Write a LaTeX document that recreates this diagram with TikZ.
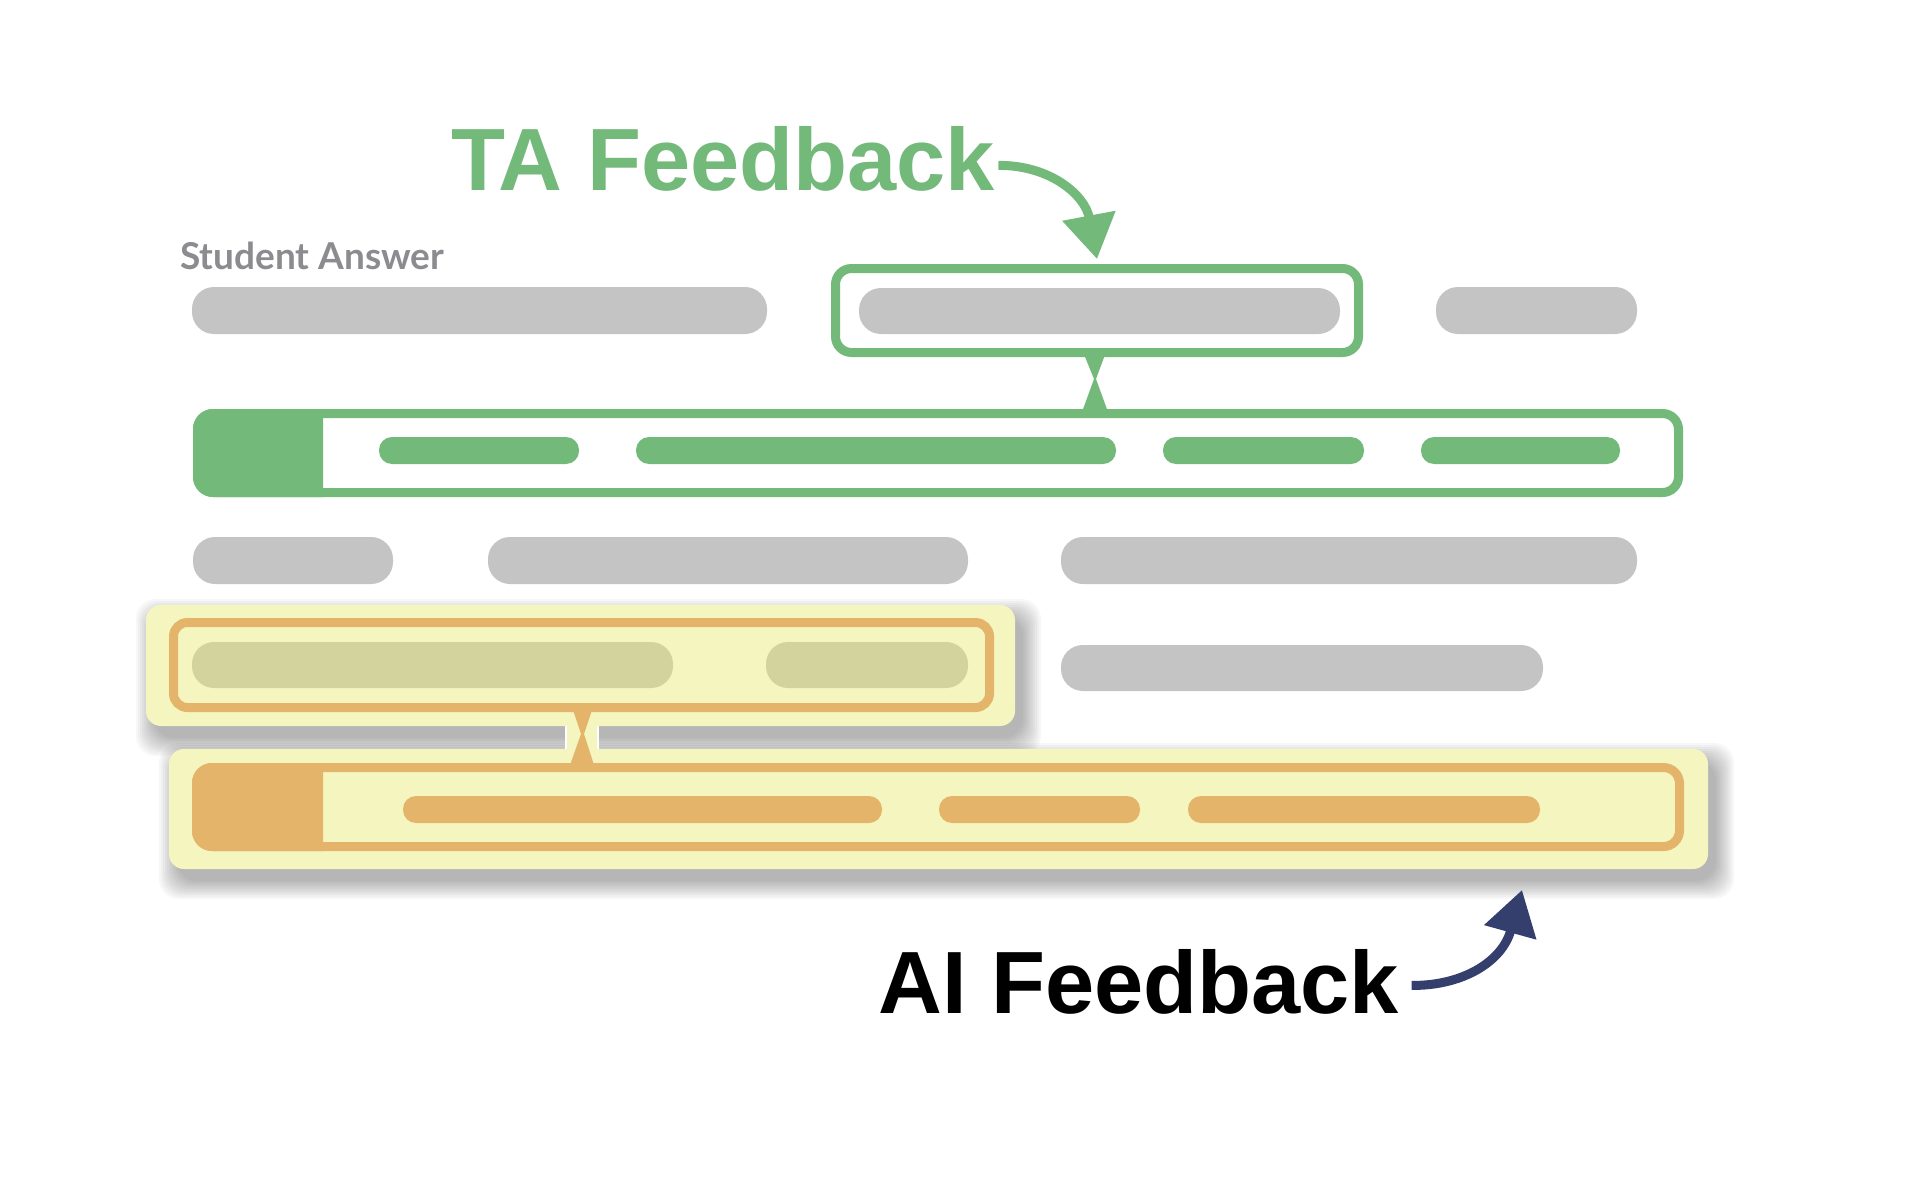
\documentclass[tikz,border=0pt]{standalone}
\usepackage{fontspec}
\setmainfont{Liberation Sans}
\newfontfamily\latofont{Lato}
\usetikzlibrary{arrows.meta}
\definecolor{tagreen}{HTML}{72B97A}
\definecolor{barg}{HTML}{C4C4C4}
\definecolor{aiyellow}{HTML}{F5F5C0}
\definecolor{aiorange}{HTML}{E3B46A}
\definecolor{aiolive}{HTML}{D3D39E}
\definecolor{labgray}{HTML}{8C8C90}
\definecolor{ainavy}{HTML}{353F6E}
\newcommand\mysoftshadow[4]{%
  \foreach \i in {0,...,9}{%
    \fill[black, opacity=0.03, rounded corners=10pt]
      ({#1+8-\i*2},{#2+12-\i*2}) rectangle ({#3+8+\i*2},{#4+12+\i*2});
  }}
\begin{document}
\begin{tikzpicture}[x=0.5pt,y=-0.5pt,
  graybar/.style={fill=barg, rounded corners=11pt},
  greenpill/.style={fill=tagreen, rounded corners=6.5pt},
  orangepill/.style={fill=aiorange, rounded corners=6.5pt},
  olivepill/.style={fill=aiolive, rounded corners=11pt},
  bigarrow/.style={line width=4.5pt, -{Triangle[length=22pt,width=26pt]}},
  label/.style={anchor=base west, inner sep=0pt, font=\fontsize{44.2}{45}\selectfont\bfseries}]
\useasboundingbox (0,0) rectangle (1928,1188);
\fill[white] (0,0) rectangle (1928,1188);

% ---------- TA part ----------
\node[label, text=tagreen] (ta) at (451,191) {TA Feedback};
\node[anchor=base west, inner sep=0pt, text=labgray, font=\latofont\bfseries\fontsize{18.5}{20}\selectfont] (sa) at (180,269) {Student Answer};

% row 1
\fill[graybar] (192,287) rectangle (767,334);
\fill[graybar] (1436,287) rectangle (1637,334);
\node[draw=tagreen, line width=4.5pt, rounded corners=8pt, minimum width=261.5pt, minimum height=42pt, inner sep=0pt] (tabox) at (1097,310.5) {};
\fill[graybar] (859,288) rectangle (1340,334);

% green hourglass
\fill[tagreen] (1083,352) -- (1106,352) -- (1096,379) -- (1108,412) -- (1082,412) -- (1094,379) -- cycle;

% green feedback bar
\begin{scope}
  \clip (180,400) rectangle (323,510);
  \fill[tagreen, rounded corners=10pt] (193,409) rectangle (400,497);
\end{scope}
\draw[tagreen, line width=4.5pt, rounded corners=8pt] (197.5,413.5) rectangle (1678.5,492.5);
\fill[greenpill] (379,437) rectangle (579,464);
\fill[greenpill] (636,437) rectangle (1116,464);
\fill[greenpill] (1163,437) rectangle (1364,464);
\fill[greenpill] (1421,437) rectangle (1620,464);

\draw[bigarrow, tagreen] ([shift={(3,6)}]ta.east) .. controls (1050,165) and (1085,195) .. ([yshift=2.5pt]tabox.north);

% row 3
\fill[graybar] (193,537) rectangle (393,584);
\fill[graybar] (488,537) rectangle (968,584);
\fill[graybar] (1061,537) rectangle (1637,584);

% row 4 gray
\fill[graybar] (1061,645) rectangle (1543,691);

% ---------- AI part ----------
\mysoftshadow{146}{605}{1015}{726}
\mysoftshadow{169}{749}{1708}{869}
\fill[aiyellow, rounded corners=7.5pt] (146,605) rectangle (1015,726);
\fill[aiyellow, rounded corners=7.5pt] (169,749) rectangle (1708,869);
% connecting strip
\fill[aiyellow] (566,720) rectangle (598,755);
\draw[white, line width=0.6pt] (566,726) -- (566,749) (598,726) -- (598,749);

% top box content
\draw[aiorange, line width=4.5pt, rounded corners=7pt] (173.5,622.5) rectangle (989.5,707.5);
\fill[olivepill] (192,642) rectangle (673,688);
\fill[olivepill] (766,642) rectangle (968,688);

% orange hourglass
\fill[aiorange] (572,707) -- (593,707) -- (584,734) -- (595,768) -- (569,768) -- (581,734) -- cycle;

% bottom box content
\begin{scope}
  \clip (180,755) rectangle (323,860);
  \fill[aiorange, rounded corners=10pt] (192,763) rectangle (400,851);
\end{scope}
\draw[aiorange, line width=4.5pt, rounded corners=8pt] (196.5,767.5) rectangle (1679.5,846.5);
\fill[orangepill] (403,796) rectangle (882,823);
\fill[orangepill] (939,796) rectangle (1140,823);
\fill[orangepill] (1188,796) rectangle (1540,823);

\node[label, text=black] (ai) at (878,1013) {AI Feedback};
\coordinate (aitip) at (1522,890);
\draw[bigarrow, ainavy] ([shift={(12,4)}]ai.east) .. controls (1462,986) and (1502,962) .. (aitip);
\end{tikzpicture}
\end{document}
